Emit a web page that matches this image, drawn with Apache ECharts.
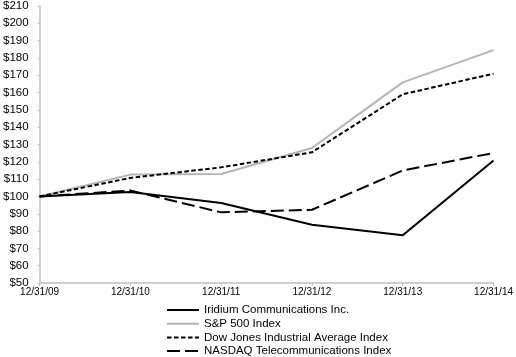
<!DOCTYPE html>
<html><head><meta charset="utf-8">
<script src="https://cdn.jsdelivr.net/npm/echarts@6/dist/echarts.min.js"></script>
<style>html,body{margin:0;padding:0;background:#fff}#c{width:516px;height:357px}</style>
</head><body><div id="c"></div>
<script>
var categories = ['12/31/09','12/31/10','12/31/11','12/31/12','12/31/13','12/31/14'];
var iridium = [100, 102.5, 96.2, 83.7, 77.6, 120.7];
var sp500 = [100, 112.6, 113, 128, 165.9, 184.5];
var dow = [100, 110.7, 116.8, 125.5, 159, 170.9];
var nasdaq = [100, 103.4, 90.8, 92.3, 115, 125.1];
var seriesNames = ['Iridium Communications Inc.','S&P 500 Index','Dow Jones Industrial Average Index','NASDAQ Telecommunications Index'];

var font = '"Liberation Sans", Arial, sans-serif';
var chart = echarts.init(document.getElementById('c'));
function mk(name, data, color, type) {
  return {name: name, type: 'line', data: data, symbol: 'none', animation: false,
    lineStyle: {color: color, width: 2, type: type}, itemStyle: {color: color}};
}
chart.setOption({
  animation: false,
  grid: {left: 35, right: 19, top: 4.6, bottom: 74},
  legend: {
    orient: 'vertical', left: 166, top: 304, height: 60, padding: 0,
    itemWidth: 32, itemHeight: 12, itemGap: 1.7,
    itemStyle: {color: 'transparent', borderWidth: 0},
    textStyle: {fontFamily: font, fontSize: 11.5, color: '#000', lineHeight: 12},
    data: seriesNames
  },
  xAxis: {
    type: 'category', data: categories, boundaryGap: false,
    axisLine: {lineStyle: {color: '#bfbfbf', width: 1.5}},
    axisTick: {show: true, length: 3, lineStyle: {color: '#bfbfbf'}},
    axisLabel: {fontFamily: font, fontSize: 10, color: '#000', margin: 4}
  },
  yAxis: {
    type: 'value', min: 50, max: 210, interval: 10,
    axisLine: {show: true, lineStyle: {color: '#bfbfbf', width: 1.5}},
    axisTick: {show: true, length: 2, lineStyle: {color: '#bfbfbf'}},
    splitLine: {show: false},
    axisLabel: {fontFamily: font, fontSize: 11.5, color: '#000', margin: 11, formatter: function(v){return '$' + v;}}
  },
  series: [
    mk(seriesNames[0], iridium, '#000', 'solid'),
    mk(seriesNames[1], sp500, '#b4b4b4', 'solid'),
    mk(seriesNames[2], dow, '#000', [4.5, 2.5]),
    mk(seriesNames[3], nasdaq, '#000', [13, 5])
  ]
});
</script></body></html>
